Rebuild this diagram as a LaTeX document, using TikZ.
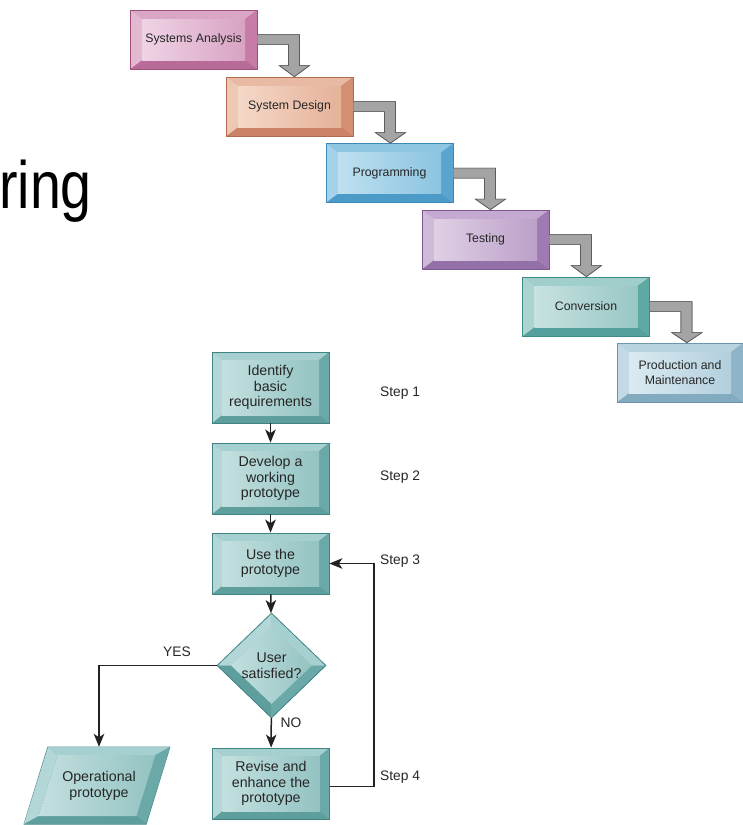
\documentclass[tikz,border=0pt]{standalone}
\usepackage{fontspec}
\setmainfont{Liberation Sans}
\usetikzlibrary{arrows.meta,shapes.geometric,calc}
% Systems Analysis (pink)
\definecolor{saD}{HTML}{9C4D7A}\definecolor{saT}{HTML}{D9A6C5}\definecolor{saL}{HTML}{E3B9D1}
\definecolor{saR}{HTML}{C67CA7}\definecolor{saB}{HTML}{B86A98}\definecolor{saF1}{HTML}{EFD3E5}\definecolor{saF2}{HTML}{D8A3C3}
% System Design (salmon)
\definecolor{sdD}{HTML}{B06A50}\definecolor{sdT}{HTML}{E9BAA3}\definecolor{sdL}{HTML}{EFC8B4}
\definecolor{sdR}{HTML}{D48F73}\definecolor{sdB}{HTML}{CC8267}\definecolor{sdF1}{HTML}{F5D8C8}\definecolor{sdF2}{HTML}{E5B199}
% Programming (blue)
\definecolor{prD}{HTML}{3E88B5}\definecolor{prT}{HTML}{8EC6E2}\definecolor{prL}{HTML}{A3D2EA}
\definecolor{prR}{HTML}{5AA5CF}\definecolor{prB}{HTML}{4C9AC8}\definecolor{prF1}{HTML}{BEE0F0}\definecolor{prF2}{HTML}{8CC4E0}
% Testing (purple)
\definecolor{teD}{HTML}{7D5690}\definecolor{teT}{HTML}{C4A9D0}\definecolor{teL}{HTML}{D0BAD9}
\definecolor{teR}{HTML}{A07BB2}\definecolor{teB}{HTML}{9470A8}\definecolor{teF1}{HTML}{E0CFE5}\definecolor{teF2}{HTML}{BBA0C8}
% Conversion (teal)
\definecolor{coD}{HTML}{3C8A87}\definecolor{coT}{HTML}{9FCECB}\definecolor{coL}{HTML}{ABD4D1}
\definecolor{coR}{HTML}{5FA9A5}\definecolor{coB}{HTML}{53A09C}\definecolor{coF1}{HTML}{C7E2E0}\definecolor{coF2}{HTML}{98C7C4}
% Production (light blue)
\definecolor{pmD}{HTML}{6A96AE}\definecolor{pmT}{HTML}{B8D3E0}\definecolor{pmL}{HTML}{C3DAE6}
\definecolor{pmR}{HTML}{8DB4C8}\definecolor{pmB}{HTML}{82ABC0}\definecolor{pmF1}{HTML}{DAEAF1}\definecolor{pmF2}{HTML}{B2CFDD}
% flowchart teal
\definecolor{fcD}{HTML}{3F8384}\definecolor{fcT}{HTML}{A6D0CF}\definecolor{fcL}{HTML}{B2D7D6}
\definecolor{fcR}{HTML}{6BA9A8}\definecolor{fcB}{HTML}{5E9E9D}\definecolor{fcF1}{HTML}{C3E0DF}\definecolor{fcF2}{HTML}{93C3C2}
\definecolor{arrG}{HTML}{A4A4A4}\definecolor{arrD}{HTML}{5C5C5C}
\definecolor{txt}{HTML}{262626}\definecolor{lin}{HTML}{222222}

\tikzset{
  bevel/.style n args={3}{rectangle, draw=#1D, line width=0.8pt, fill=#1F2,
    text=txt, align=center, inner sep=0pt,
    path picture={
      \coordinate (q1) at (path picture bounding box.north west);
      \coordinate (q2) at (path picture bounding box.north east);
      \coordinate (q3) at (path picture bounding box.south east);
      \coordinate (q4) at (path picture bounding box.south west);
      \coordinate (i1) at ([xshift=#2,yshift=-#3]q1);
      \coordinate (i2) at ([xshift=-#2,yshift=-#3]q2);
      \coordinate (i3) at ([xshift=-#2,yshift=#3]q3);
      \coordinate (i4) at ([xshift=#2,yshift=#3]q4);
      \fill[#1T] (q1)--(q2)--(i2)--(i1)--cycle;
      \fill[#1R] (q2)--(q3)--(i3)--(i2)--cycle;
      \fill[#1B] (q3)--(q4)--(i4)--(i3)--cycle;
      \fill[#1L] (q4)--(q1)--(i1)--(i4)--cycle;
      \shade[left color=#1F1,right color=#1F2] (i1) rectangle (i3);
    }},
  wfbox/.style={bevel={#1}{12pt}{9pt}, minimum width=127pt, minimum height=59pt,
    font=\fontsize{12.3}{14.5}\selectfont},
  fcbox/.style={bevel={fc}{10pt}{8pt}, minimum width=117pt,
    font=\fontsize{14.2}{15.3}\selectfont},
  dbevel/.style={diamond, draw=fcD, line width=0.8pt, fill=fcF2, text=txt,
    align=center, inner sep=0pt, minimum width=109pt, minimum height=105pt,
    font=\fontsize{14.2}{15.8}\selectfont,
    path picture={
      \coordinate (n0) at (path picture bounding box.north);
      \coordinate (e0) at (path picture bounding box.east);
      \coordinate (s0) at (path picture bounding box.south);
      \coordinate (w0) at (path picture bounding box.west);
      \coordinate (n1) at ([yshift=-14pt]n0);
      \coordinate (e1) at ([xshift=-14pt]e0);
      \coordinate (s1) at ([yshift=14pt]s0);
      \coordinate (w1) at ([xshift=14pt]w0);
      \fill[fcL] (w0)--(n0)--(n1)--(w1)--cycle;
      \fill[fcT] (n0)--(e0)--(e1)--(n1)--cycle;
      \fill[fcR] (e0)--(s0)--(s1)--(e1)--cycle;
      \fill[fcB] (s0)--(w0)--(w1)--(s1)--cycle;
      \shade[left color=fcF1,right color=fcF2] (n1)--(e1)--(s1)--(w1)--cycle;
    }},
  steplbl/.style={anchor=west, text=txt, inner sep=0pt, font=\fontsize{13.8}{15.5}\selectfont},
  lbl/.style={text=txt, inner sep=0pt, font=\fontsize{13.8}{15.5}\selectfont},
  flow/.style={draw=lin, line width=1.5pt, -{Stealth[length=13pt,width=10.5pt,inset=3.5pt]}},
  bigarrow/.style={fill=arrG, draw=arrD, line width=0.7pt, line join=miter}
}

% gray waterfall arrow from box #1 to box #2
\newcommand{\wfarrow}[2]{%
  \path let \p1=(#1.north east), \p2=(#2.north) in
    coordinate (wa) at (\x1,\y1) coordinate (wb) at (\x1,\y2);
  \fill[bigarrow]
    ([xshift=0pt,yshift=-25pt]wa) -- ([xshift=42pt,yshift=-25pt]wa)
    -- ([xshift=42pt,yshift=-56pt]wa) -- ([xshift=52pt,yshift=-56pt]wa)
    -- ([xshift=37pt]wb) -- ([xshift=22pt,yshift=-56pt]wa)
    -- ([xshift=31pt,yshift=-56pt]wa) -- ([xshift=31pt,yshift=-35pt]wa)
    -- ([yshift=-35pt]wa) -- cycle;
  \draw[bigarrow] ([xshift=0pt,yshift=-25pt]wa) -- ([xshift=42pt,yshift=-25pt]wa)
    -- ([xshift=42pt,yshift=-56pt]wa) -- ([xshift=52pt,yshift=-56pt]wa)
    -- ([xshift=37pt]wb) -- ([xshift=22pt,yshift=-56pt]wa)
    -- ([xshift=31pt,yshift=-56pt]wa) -- ([xshift=31pt,yshift=-35pt]wa)
    -- ([yshift=-35pt]wa);
}

\begin{document}
\begin{tikzpicture}[x=1pt,y=-1pt]
\useasboundingbox (0,0) rectangle (743,825);

% big partial title
\node[anchor=base west, inner sep=0pt, xscale=0.83, transform shape,
  font=\fontsize{67}{70}\selectfont] (title) at (-1,208) {ring};

% waterfall
\node[wfbox=sa] (sa) at (193.5,39.5) {Systems Analysis};
\node[wfbox=sd] (sd) at (289.5,106.5) {System Design};
\node[wfbox=pr] (pr) at (389.5,173) {Programming};
\node[wfbox=te] (te) at (485.5,239.5) {Testing};
\node[wfbox=co] (co) at (586,306.5) {Conversion};
\node[wfbox=pm, minimum width=126pt] (pm) at (680,372.5) {Production and\\Maintenance};

\wfarrow{sa}{sd}
\wfarrow{sd}{pr}
\wfarrow{pr}{te}
\wfarrow{te}{co}
\wfarrow{co}{pm}

% prototyping flowchart
\node[fcbox, minimum height=71pt] (id) at (270.5,387.5) {Identify\\basic\\requirements};
\node[fcbox, minimum height=71pt] (dev) at (270.5,478.5) {Develop a\\working\\prototype};
\node[fcbox, minimum height=61pt] (use) at (270.5,563.5) {Use the\\prototype};
\node[dbevel] (dia) at (271.5,665.5) {User\\satisfied?};
\node[fcbox, minimum height=71pt] (rev) at (271,783.5) {Revise and\\enhance the\\prototype};

% parallelogram
\fill[fcD] (47.5,746.5) -- (170.5,746.5) -- (146.5,824.5) -- (23.5,824.5) -- cycle;
\fill[fcT] (48,747) -- (170,747) -- (155.5,755) -- (57.5,755) -- cycle;
\fill[fcR] (170,747) -- (146,824) -- (136.5,816) -- (155.5,755) -- cycle;
\fill[fcB] (146,824) -- (24,824) -- (38.5,816) -- (136.5,816) -- cycle;
\fill[fcL] (24,824) -- (48,747) -- (57.5,755) -- (38.5,816) -- cycle;
\shade[left color=fcF1, right color=fcF2] (57.5,755) -- (155.5,755) -- (136.5,816) -- (38.5,816) -- cycle;
\node[text=txt, align=center, inner sep=0pt, minimum width=122pt, minimum height=78pt,
  font=\fontsize{14.2}{15.5}\selectfont] (op) at (99,786) {Operational\\prototype};

% connectors
\draw[flow] (id) -- (dev);
\draw[flow] (dev) -- (use);
\draw[flow] (use) -- (dia);
\draw[flow] (dia) -- (rev);
\draw[flow] (dia.west) -| (op.north);
\draw[flow] ([yshift=-3pt]rev.east) -- ++(44,0) |- (use.east);

\node[lbl] (yes) at (177,652) {YES};
\node[lbl] (no) at (291,723) {NO};

\node[steplbl] (s1) at (380,393) {Step 1};
\node[steplbl] (s2) at (380,477) {Step 2};
\node[steplbl] (s3) at (380,561) {Step 3};
\node[steplbl] (s4) at (380,777) {Step 4};
\end{tikzpicture}
\end{document}
